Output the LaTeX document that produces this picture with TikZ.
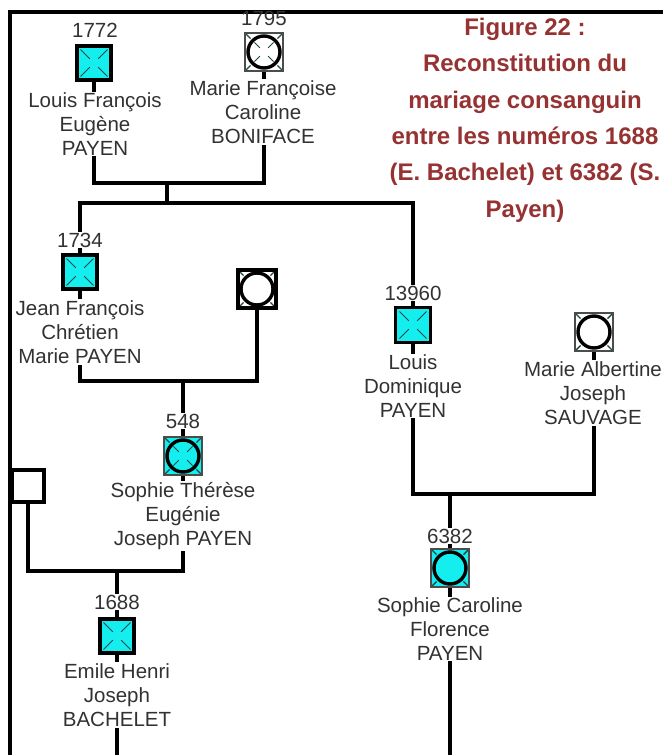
\documentclass[tikz,border=0pt]{standalone}
\usepackage{fontspec}
\setmainfont{Liberation Sans}
\usetikzlibrary{backgrounds,calc}
\definecolor{cyanc}{RGB}{20,238,238}
\definecolor{txt}{RGB}{50,50,50}
\definecolor{titlec}{RGB}{150,50,50}
\definecolor{mk}{RGB}{30,70,70}
\begin{document}
\begin{tikzpicture}[x=1pt,y=-1pt,
  conn/.style={line width=3.2pt, black},
  frameline/.style={line width=3.2pt, black},
  numtext/.style={font=\fontsize{20.5}{24}\selectfont, text=txt, fill=white, inner sep=1pt},
  persontext/.style={font=\fontsize{20.5}{24}\selectfont, text=txt, fill=white, inner sep=1pt, align=center},
  titletext/.style={font=\bfseries\fontsize{24}{36.4}\selectfont, text=titlec, align=center, inner sep=0pt},
  male/.style={rectangle, inner sep=0pt, minimum size=#1, draw=black, line width=3.6pt, fill=cyanc,
    path picture={\foreach \a in {45,135,225,315}{\draw[mk, line width=1pt]
      ([shift={(\a:6)}]path picture bounding box.center) -- ([shift={(\a:19)}]path picture bounding box.center);}}},
  plainmale/.style={rectangle, inner sep=0pt, minimum size=#1, draw=black, line width=3.6pt, fill=white},
  femsq/.style={rectangle, inner sep=0pt, minimum size=38pt, draw=black!70, line width=1.4pt, fill=#1},
  fem/.style={femsq=#1,
    path picture={\foreach \a in {45,135,225,315}{\draw[mk, line width=1.4pt]
      ([shift={(\a:19)}]path picture bounding box.center) -- ([shift={(\a:28)}]path picture bounding box.center);}
      \draw[black, line width=3.4pt, fill=#1] (path picture bounding box.center) circle[radius=16];}},
  femx/.style={femsq=#1,
    path picture={\foreach \a in {45,135,225,315}{\draw[mk, line width=1.4pt]
      ([shift={(\a:19)}]path picture bounding box.center) -- ([shift={(\a:28)}]path picture bounding box.center);}
      \draw[black, line width=3.4pt, fill=#1] (path picture bounding box.center) circle[radius=16];
      \foreach \a in {45,135,225,315}{\draw[mk, line width=1pt]
      ([shift={(\a:6)}]path picture bounding box.center) -- ([shift={(\a:13.5)}]path picture bounding box.center);}}},
]
\useasboundingbox (0,0) rectangle (663,755);

% title
\node[titletext] (title) at (525,120) {Figure 22 :\\Reconstitution du\\mariage consanguin\\entre les numéros 1688\\(E. Bachelet) et 6382 (S.\\Payen)};

% generation 1
\node[male=34pt] (n1772) at (94,63) {};
\node[numtext] (l1772) at (95,30) {1772};
\node[persontext] (t1772) at (95,124) {Louis François\\Eugène\\PAYEN};

\node[femx=white] (n1795) at (264,52) {};
\node[numtext, fill=none] (l1795) at (264,18) {1795};
\node[persontext] (t1795) at (263,112) {Marie Françoise\\Caroline\\BONIFACE};

% generation 2
\node[male=34pt] (n1734) at (80,272) {};
\node[numtext] (l1734) at (80,240) {1734};
\node[persontext] (t1734) at (80,332) {Jean François\\Chrétien\\Marie PAYEN};

\node[fem=white, draw=black, line width=3.4pt] (s1734) at (257,289) {};

\node[male=35pt] (n13960) at (413,325) {};
\node[numtext] (l13960) at (413,293) {13960};
\node[persontext] (t13960) at (413,386) {Louis\\Dominique\\PAYEN};

\node[fem=white] (s13960) at (594,332) {};
\node[persontext] (ts13960) at (593,393) {Marie Albertine\\Joseph\\SAUVAGE};

% generation 3
\node[femx=cyanc] (n548) at (183,456) {};
\node[numtext] (l548) at (183,421) {548};
\node[persontext] (t548) at (183,516) {Sophie Thérèse\\Eugénie\\Joseph PAYEN};

\node[plainmale=32pt] (s548) at (28,486) {};

\node[fem=cyanc] (n6382) at (450,568) {};
\node[numtext] (l6382) at (450,536) {6382};
\node[persontext] (t6382) at (450,629) {Sophie Caroline\\Florence\\PAYEN};

% generation 4
\node[male=34pt] (n1688) at (117,636) {};
\node[numtext] (l1688) at (117,602) {1688};
\node[persontext] (t1688) at (117,695) {Emile Henri\\Joseph\\BACHELET};

% junctions
\coordinate (m1) at (167,183);
\coordinate (s1) at (167,203);
\coordinate (c2) at (183,381);
\coordinate (c3) at (117,571);
\coordinate (c4) at (450,494);
\coordinate (b1) at (117,760);
\coordinate (b2) at (450,760);

\begin{pgfonlayer}{background}
\draw[frameline] (670,12) -- (10,12) -- (10,762);
\draw[conn] (n1772) -- (n1772 |- m1) -- (n1795 |- m1) -- (n1795);
\draw[conn] (m1) -- (s1);
\draw[conn] (n1734) -- (n1734 |- s1) -- (n13960 |- s1) -- (n13960);
\draw[conn] (n1734) -- (n1734 |- c2) -- (s1734 |- c2) -- (s1734);
\draw[conn] (c2) -- (n548);
\draw[conn] (s548) -- (s548 |- c3) -- (n548 |- c3) -- (n548);
\draw[conn] (c3) -- (n1688);
\draw[conn] (n1688) -- (b1);
\draw[conn] (n13960) -- (n13960 |- c4) -- (s13960 |- c4) -- (s13960);
\draw[conn] (c4) -- (n6382);
\draw[conn] (n6382) -- (b2);
\end{pgfonlayer}
\end{tikzpicture}
\end{document}
